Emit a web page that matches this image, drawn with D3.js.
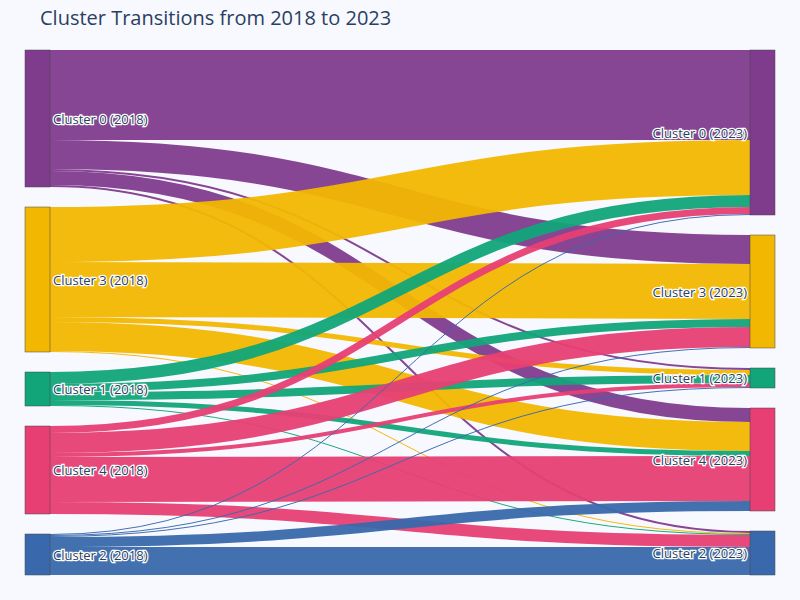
<!DOCTYPE html>
<html><head><meta charset="utf-8">
<script src="https://cdn.jsdelivr.net/npm/d3@7"></script>
<style>body{margin:0;background:#f8f8ff}text{font-family:"Open Sans",sans-serif}</style>
</head><body><svg id="chart" width="800" height="600"></svg>
<script>
var clusters = ['0', '3', '1', '4', '2'];
var colors = ['#7F3C8D', '#F2B701', '#11A579', '#E73F74', '#3969AC'];
// flows[i][j]: from 2018 cluster i to 2023 cluster j (order as in clusters)
var flows = [
  [90, 29, 2, 14, 2],
  [55, 55, 5, 29, 1],
  [12, 8, 8, 5, 1],
  [7, 20, 4, 45, 12],
  [1, 1, 1, 10, 28]
];

var svg = d3.select('#chart');
svg.append('rect').attr('width', 800).attr('height', 600).attr('fill', '#f8f8ff');
svg.append('text').attr('x', 40).attr('y', 25).attr('font-size', 20).attr('fill', '#2a3f5f')
  .text('Cluster Transitions from 2018 to 2023');

var yTop = 50, yBottom = 575, gap = 20, nw = 25;
var x = d3.scaleOrdinal().domain(['2018', '2023']).range([25, 750]);
var inTot = flows.map(function(r) { return d3.sum(r); });
var outTot = clusters.map(function(c, j) { return d3.sum(flows, function(r) { return r[j]; }); });
var maxTot = Math.max(d3.sum(inTot), d3.sum(outTot));
var k = d3.scaleLinear().domain([0, maxTot]).range([0, yBottom - yTop - gap * (clusters.length - 1)]);

function place(tot) {
  var y = yTop;
  return tot.map(function(v) { var n = {y0: y, y1: y + k(v)}; y = n.y1 + gap; return n; });
}
var left = place(inTot), right = place(outTot);

var links = [];
var srcOff = left.map(function(n) { return n.y0; });
var tgtOff = right.map(function(n) { return n.y0; });
flows.forEach(function(r, i) {
  r.forEach(function(v, j) {
    links.push({i: i, j: j, v: v});
  });
});
links.forEach(function(l) { l.sy = srcOff[l.i] + k(l.v) / 2; srcOff[l.i] += k(l.v); });
// target side ordered by source order
links.slice().sort(function(a, b) { return a.j - b.j || a.i - b.i; })
  .forEach(function(l) { l.ty = tgtOff[l.j] + k(l.v) / 2; tgtOff[l.j] += k(l.v); });

var lk = d3.linkHorizontal().x(function(d) { return d[0]; }).y(function(d) { return d[1]; });
svg.append('g').selectAll('path').data(links).join('path')
  .attr('d', function(l) { return lk({source: [x('2018') + nw, l.sy], target: [x('2023'), l.ty]}); })
  .attr('fill', 'none').attr('stroke', function(l) { return colors[l.i]; })
  .attr('stroke-opacity', 0.95)
  .attr('stroke-width', function(l) { return Math.max(1, k(l.v)); });

function nodes(list, year) {
  var g = svg.append('g');
  g.selectAll('rect').data(list).join('rect')
    .attr('x', x(year)).attr('width', nw)
    .attr('y', function(d) { return d.y0; }).attr('height', function(d) { return d.y1 - d.y0; })
    .attr('fill', function(d, i) { return colors[i]; })
    .attr('stroke', '#444').attr('stroke-width', 0.5);
  g.selectAll('text').data(list).join('text')
    .attr('x', year === '2018' ? x(year) + nw + 3 : x(year) - 3)
    .attr('y', function(d) { return (d.y0 + d.y1) / 2 + 5; })
    .attr('text-anchor', year === '2018' ? 'start' : 'end')
    .attr('font-size', 13).attr('fill', '#2a3f5f')
    .attr('stroke', '#fff').attr('stroke-width', 2.5).attr('paint-order', 'stroke')
    .text(function(d, i) { return 'Cluster ' + clusters[i] + ' (' + year + ')'; });
}
nodes(left, '2018');
nodes(right, '2023');
</script></body></html>
